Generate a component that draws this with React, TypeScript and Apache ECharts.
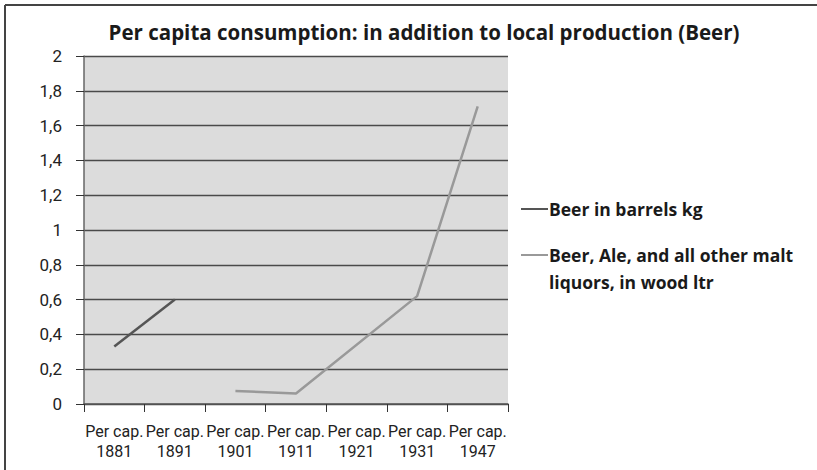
import React, { useEffect, useRef } from "react";
import * as echarts from "echarts";

const categories = [
  "Per cap.\n1881",
  "Per cap.\n1891",
  "Per cap.\n1901",
  "Per cap.\n1911",
  "Per cap.\n1921",
  "Per cap.\n1931",
  "Per cap.\n1947",
];
const beerBarrels = [0.33, 0.6, null, null, null, null, null];
const beerAleWood = [null, null, 0.075, 0.06, null, 0.62, 1.71];
const seriesNames = [
  "Beer in barrels kg",
  "Beer, Ale, and all other malt\nliquors, in wood ltr",
];
const titleText = "Per capita consumption: in addition to local production (Beer)";

export default function App() {
  const ref = useRef<HTMLDivElement>(null);
  useEffect(() => {
    if (!ref.current) return;
    const chart = echarts.init(ref.current, undefined, { renderer: "svg" });
    const font = "'Open Sans', sans-serif";
    chart.setOption({
      animation: false,
      backgroundColor: "#ffffff",
      title: {
        text: titleText,
        left: 419,
        top: 16,
        textAlign: "center",
        textStyle: { fontFamily: font, fontWeight: "bold", fontSize: 20.5, color: "#1a1a1a" },
      },
      legend: { show: false },
      grid: {
        left: 84,
        right: 309,
        top: 56,
        bottom: 66,
        show: true,
        backgroundColor: "#dcdcdc",
        borderWidth: 0,
      },
      xAxis: {
        type: "category",
        data: categories,
        boundaryGap: true,
        axisLine: { lineStyle: { color: "#555", width: 1.5 } },
        axisTick: { show: true, length: 8, alignWithLabel: false, lineStyle: { color: "#333" } },
        axisLabel: {
          color: "#222",
          fontFamily: "Roboto, sans-serif",
          fontSize: 16,
          lineHeight: 20,
          margin: 17,
          interval: 0,
        },
      },
      yAxis: {
        type: "value",
        min: 0,
        max: 2,
        interval: 0.2,
        axisLine: { show: true, lineStyle: { color: "#666", width: 1.5 } },
        axisTick: { show: true, length: 8, lineStyle: { color: "#333" } },
        splitLine: { lineStyle: { color: "#4a4a4a", width: 1.3 } },
        axisLabel: {
          color: "#222",
          fontFamily: "Roboto, sans-serif",
          fontSize: 17,
          margin: 22,
          formatter: (v: number) => (Math.round(v * 10) / 10).toString().replace(".", ","),
        },
      },
      series: [
        {
          name: seriesNames[0],
          type: "line",
          data: beerBarrels,
          showSymbol: false,
          symbol: "none",
          lineStyle: { color: "#555555", width: 2.5 },
          itemStyle: { color: "#555555" },
        },
        {
          name: seriesNames[1],
          type: "line",
          data: beerAleWood,
          connectNulls: true,
          showSymbol: false,
          symbol: "none",
          lineStyle: { color: "#999999", width: 2.5 },
          itemStyle: { color: "#999999" },
        },
      ],
      graphic: [
        { type: "line", shape: { x1: 5, y1: 5, x2: 817, y2: 5 }, style: { stroke: "#444", lineWidth: 2 } },
        { type: "line", shape: { x1: 5, y1: 5, x2: 5, y2: 470 }, style: { stroke: "#444", lineWidth: 2 } },
        { type: "line", shape: { x1: 521, y1: 209, x2: 548, y2: 209 }, style: { stroke: "#555", lineWidth: 2 } },
        {
          type: "text",
          x: 549,
          y: 209,
          style: {
            text: seriesNames[0],
            fontFamily: font,
            fontWeight: "bold",
            fontSize: 17.5,
            fill: "#1a1a1a",
            verticalAlign: "middle",
          },
        },
        { type: "line", shape: { x1: 521, y1: 255, x2: 548, y2: 255 }, style: { stroke: "#999", lineWidth: 2 } },
        {
          type: "text",
          x: 549,
          y: 241.5,
          style: {
            text: seriesNames[1],
            fontFamily: font,
            fontWeight: "bold",
            fontSize: 17.5,
            lineHeight: 27,
            fill: "#1a1a1a",
            verticalAlign: "top",
          },
        },
      ],
    });
    return () => chart.dispose();
  }, []);
  return <div ref={ref} style={{ width: 817, height: 470, position: "absolute", left: 0, top: 0 }} />;
}
